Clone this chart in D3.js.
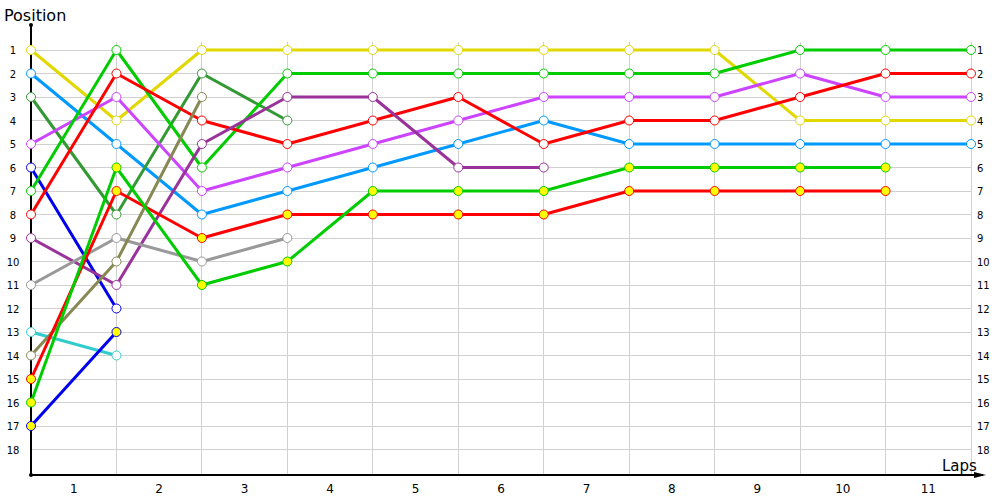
<!DOCTYPE html>
<html><head><meta charset="utf-8">
<script src="https://cdn.jsdelivr.net/npm/d3@7"></script>
<style>body{margin:0;background:#fff;} text{font-family:Tahoma,"DejaVu Sans",Verdana,sans-serif;}</style>
</head><body><svg id="c" width="1000" height="500"></svg>
<script>
const laps = [0,1,2,3,4,5,6,7,8,9,10,11];
const lapLabels = ["1","2","3","4","5","6","7","8","9","10","11"];
const positions = d3.range(1,19);

const seriesNames = ["yellow","lightblue","darkgreen","violet","darkblue","green","red","purple","gray","cyan","olive","redY","greenY","blueY"];
const seriesColors = ["#e0d800","#0099ff","#339933","#cc44ff","#0000ee","#00cc00","#ff0000","#993399","#999999","#33cccc","#888855","#ff0000","#00cc00","#0000ee"];
const seriesFill = ["#fff","#fff","#fff","#fff","#fff","#fff","#fff","#fff","#fff","#fff","#fff","#ffff00","#ffff00","#ffff00"];
const seriesValues = [
  [1,4,1,1,1,1,1,1,1,4,4,4],
  [2,5,8,7,6,5,4,5,5,5,5,5],
  [3,8,2,4],
  [5,3,7,6,5,4,3,3,3,2,3,3],
  [6,12],
  [7,1,6,2,2,2,2,2,2,1,1,1],
  [8,2,4,5,4,3,5,4,4,3,2,2],
  [9,11,5,3,3,6,6],
  [11,9,10,9],
  [13,14],
  [14,10,3],
  [15,7,9,8,8,8,8,7,7,7,7],
  [16,6,11,10,7,7,7,6,6,6,6],
  [17,13]
];

const svg = d3.select("#c");
const x = d3.scaleLinear().domain([0,11]).range([31,971]);
const y = d3.scaleLinear().domain([1,18]).range([50,449.5]);
const yAxisBottom = 475;

// grid
const g = svg.append("g");
g.selectAll("line.h").data(positions).join("line")
  .attr("x1",x(0)).attr("x2",x(11)).attr("y1",d=>y(d)).attr("y2",d=>y(d))
  .attr("stroke","#d0d0d0").attr("stroke-width",1).attr("shape-rendering","crispEdges");
g.selectAll("line.v").data(laps.slice(1)).join("line")
  .attr("x1",d=>x(d)).attr("x2",d=>x(d)).attr("y1",42).attr("y2",yAxisBottom)
  .attr("stroke","#d0d0d0").attr("stroke-width",1).attr("shape-rendering","crispEdges");

// axes
svg.append("line").attr("x1",x(0)).attr("x2",x(0)).attr("y1",25).attr("y2",yAxisBottom)
  .attr("stroke","#000").attr("stroke-width",1.5).attr("shape-rendering","crispEdges");
svg.append("circle").attr("cx",x(0)).attr("cy",25).attr("r",2).attr("fill","#000");
svg.append("circle").attr("cx",x(0)).attr("cy",yAxisBottom).attr("r",2).attr("fill","#000");
svg.append("line").attr("x1",x(0)).attr("x2",983).attr("y1",yAxisBottom).attr("y2",yAxisBottom)
  .attr("stroke","#000").attr("stroke-width",1.5).attr("shape-rendering","crispEdges");
svg.append("path").attr("d",`M974,${yAxisBottom-3} L986,${yAxisBottom} L974,${yAxisBottom+3} Z`).attr("fill","#000");

// labels
svg.append("text").attr("x",4).attr("y",21).attr("font-size",16).attr("fill","#000").text("Position");
svg.append("text").attr("x",942).attr("y",471).attr("font-size",15).attr("fill","#000").text("Laps");

svg.selectAll("text.yl").data(positions).join("text")
  .attr("x",13).attr("y",d=>y(d)+4).attr("text-anchor","middle").attr("font-size",10).attr("fill","#000").text(d=>d);
svg.selectAll("text.yr").data(positions).join("text")
  .attr("x",977).attr("y",d=>y(d)+4).attr("text-anchor","start").attr("font-size",10).attr("fill","#000").text(d=>d);
svg.selectAll("text.xl").data(lapLabels).join("text")
  .attr("x",(d,i)=>(x(i)+x(i+1))/2).attr("y",493).attr("text-anchor","middle").attr("font-size",12).attr("fill","#000").text(d=>d);

// series
const line = d3.line().x((d,i)=>x(i)).y(d=>y(d));
seriesValues.forEach((vals,si)=>{
  svg.append("path").datum(vals).attr("d",line).attr("fill","none")
    .attr("stroke",seriesColors[si]).attr("stroke-width",3).attr("stroke-linejoin","round");
});
seriesValues.forEach((vals,si)=>{
  svg.append("g").selectAll("circle").data(vals).join("circle")
    .attr("cx",(d,i)=>x(i)).attr("cy",d=>y(d)).attr("r",4.5)
    .attr("fill",seriesFill[si]).attr("stroke",seriesColors[si]).attr("stroke-width",1);
});
</script></body></html>
